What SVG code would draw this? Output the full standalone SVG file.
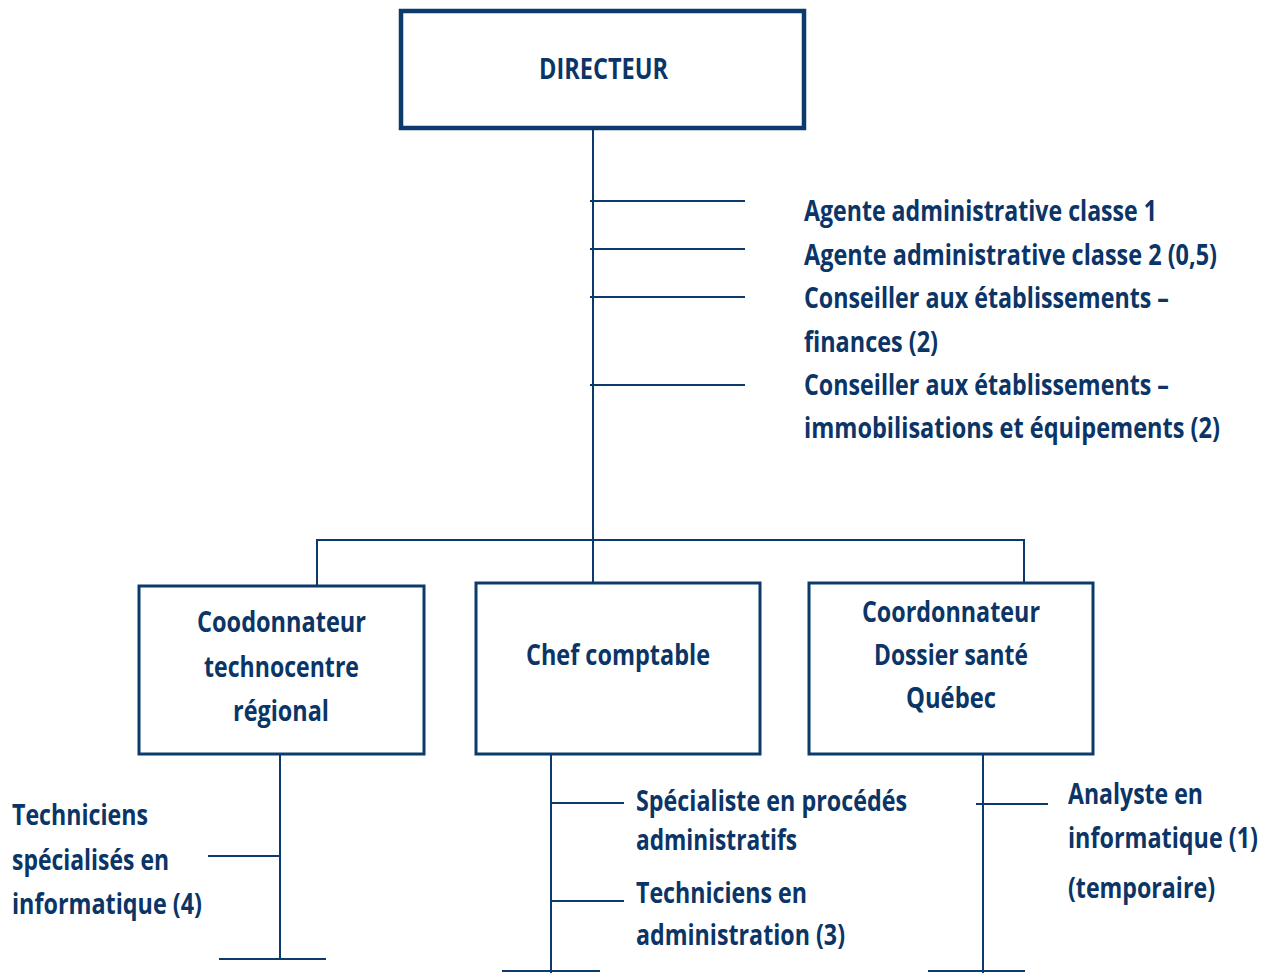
<svg xmlns="http://www.w3.org/2000/svg" width="1268" height="973" viewBox="0 0 1268 973">
  <style>
    .bg { fill: #ffffff; }
    .box { fill: #ffffff; stroke: #0d3a6c; stroke-width: 3; }
    .box-top { fill: #ffffff; stroke: #0d3a6c; stroke-width: 4.5; }
    .line { stroke: #0d3a6c; stroke-width: 2; fill: none; }
    text { font-family: "Open Sans", "Noto Sans", "Liberation Sans", sans-serif; font-weight: 700; font-size: 29px; fill: #0b3566; }
    .mid { text-anchor: middle; }
  </style>
  <rect class="bg" x="0" y="0" width="1268" height="973"/>

  <!-- connectors -->
  <g id="connectors">
    <!-- director trunk and staff branches -->
    <line class="line" x1="593" y1="130" x2="593" y2="582"/>
    <line class="line" x1="590" y1="201" x2="745" y2="201"/>
    <line class="line" x1="590" y1="249" x2="745" y2="249"/>
    <line class="line" x1="590" y1="297" x2="745" y2="297"/>
    <line class="line" x1="590" y1="385" x2="745" y2="385"/>
    <!-- bus to the three units -->
    <polyline class="line" points="317,585 317,540 1024,540 1024,582"/>
    <!-- technocentre branch -->
    <line class="line" x1="280" y1="755" x2="280" y2="960"/>
    <line class="line" x1="208" y1="856" x2="280" y2="856"/>
    <line class="line" x1="219" y1="959" x2="326" y2="959"/>
    <!-- chef comptable branch -->
    <line class="line" x1="551" y1="755" x2="551" y2="973"/>
    <line class="line" x1="551" y1="803" x2="624" y2="803"/>
    <line class="line" x1="551" y1="901" x2="624" y2="901"/>
    <line class="line" x1="502" y1="971" x2="600" y2="971"/>
    <!-- dossier santé branch -->
    <line class="line" x1="983" y1="755" x2="983" y2="973"/>
    <line class="line" x1="976" y1="804" x2="1048" y2="804"/>
    <line class="line" x1="928" y1="971" x2="1025" y2="971"/>
  </g>

  <g id="directeur">
    <rect class="box-top" x="401" y="11" width="403" height="117"/>
    <text class="mid" x="603.5" y="79" textLength="129" lengthAdjust="spacingAndGlyphs">DIRECTEUR</text>
  </g>

  <g id="staff">
    <text x="804" y="221" textLength="353" lengthAdjust="spacingAndGlyphs">Agente administrative classe 1</text>
    <text x="804" y="265" textLength="413" lengthAdjust="spacingAndGlyphs">Agente administrative classe 2 (0,5)</text>
    <text x="804" y="308" textLength="365" lengthAdjust="spacingAndGlyphs">Conseiller aux établissements –</text>
    <text x="804" y="352" textLength="134" lengthAdjust="spacingAndGlyphs">finances (2)</text>
    <text x="804" y="395" textLength="365" lengthAdjust="spacingAndGlyphs">Conseiller aux établissements –</text>
    <text x="804" y="438" textLength="416" lengthAdjust="spacingAndGlyphs">immobilisations et équipements (2)</text>
  </g>

  <g id="technocentre">
    <rect class="box" x="139" y="586" width="285" height="168"/>
    <text class="mid" x="281.5" y="632" textLength="169" lengthAdjust="spacingAndGlyphs">Coodonnateur</text>
    <text class="mid" x="281.5" y="677" textLength="155" lengthAdjust="spacingAndGlyphs">technocentre</text>
    <text class="mid" x="281" y="721" textLength="96" lengthAdjust="spacingAndGlyphs">régional</text>
  </g>

  <g id="chef-comptable">
    <rect class="box" x="476" y="583" width="284" height="171"/>
    <text class="mid" x="618" y="665" textLength="184" lengthAdjust="spacingAndGlyphs">Chef comptable</text>
  </g>

  <g id="dossier-sante">
    <rect class="box" x="809" y="583" width="284" height="171"/>
    <text class="mid" x="951" y="622" textLength="178" lengthAdjust="spacingAndGlyphs">Coordonnateur</text>
    <text class="mid" x="951" y="665" textLength="154" lengthAdjust="spacingAndGlyphs">Dossier santé</text>
    <text class="mid" x="951" y="708" textLength="90" lengthAdjust="spacingAndGlyphs">Québec</text>
  </g>

  <g id="techniciens-informatique">
    <text x="12" y="825" textLength="136" lengthAdjust="spacingAndGlyphs">Techniciens</text>
    <text x="12" y="870" textLength="157" lengthAdjust="spacingAndGlyphs">spécialisés en</text>
    <text x="12" y="914" textLength="190" lengthAdjust="spacingAndGlyphs">informatique (4)</text>
  </g>

  <g id="specialiste">
    <text x="636" y="811" textLength="271" lengthAdjust="spacingAndGlyphs">Spécialiste en procédés</text>
    <text x="636" y="850" textLength="161" lengthAdjust="spacingAndGlyphs">administratifs</text>
  </g>

  <g id="techniciens-administration">
    <text x="636" y="903" textLength="171" lengthAdjust="spacingAndGlyphs">Techniciens en</text>
    <text x="636" y="945" textLength="209" lengthAdjust="spacingAndGlyphs">administration (3)</text>
  </g>

  <g id="analyste">
    <text x="1068" y="804" textLength="135" lengthAdjust="spacingAndGlyphs">Analyste en</text>
    <text x="1068" y="848" textLength="190" lengthAdjust="spacingAndGlyphs">informatique (1)</text>
    <text x="1068" y="898" textLength="147" lengthAdjust="spacingAndGlyphs">(temporaire)</text>
  </g>
</svg>
